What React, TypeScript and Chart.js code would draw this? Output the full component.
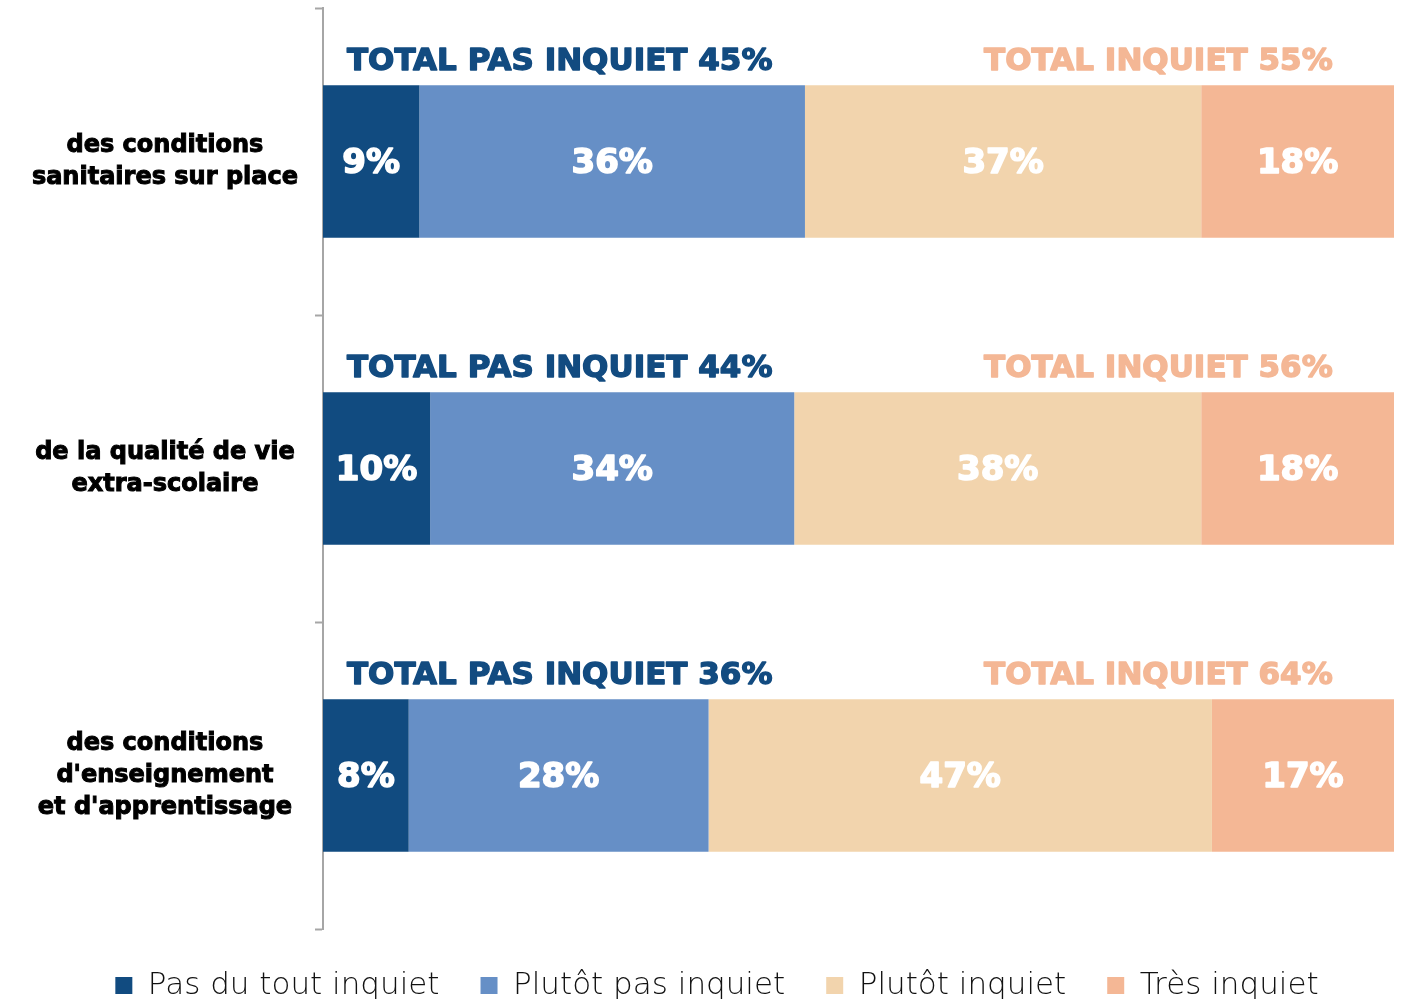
import React, { useEffect, useRef } from "react";
import { Chart, registerables } from "chart.js";

Chart.register(...registerables);

const categories: string[][] = [
  ["des conditions", "sanitaires sur place"],
  ["de la qualité de vie", "extra-scolaire"],
  ["des conditions", "d'enseignement", "et d'apprentissage"],
];
const seriesNames = ["Pas du tout inquiet", "Plutôt pas inquiet", "Plutôt inquiet", "Très inquiet"];
const pasDuToutInquiet = [9, 10, 8];
const plutotPasInquiet = [36, 34, 28];
const plutotInquiet = [37, 38, 47];
const tresInquiet = [18, 18, 17];
const totalPasInquiet = [45, 44, 36];
const totalInquiet = [55, 56, 64];

const COLORS = ["#114B80", "#668FC6", "#F2D4AD", "#F4B795"];
const BOLD = "'DejaVu Sans'";
const LIGHT = "'DejaVu Sans'";

const legendShift = {
  id: "legendShift",
  afterLayout(chart: any) {
    if (chart.legend) {
      chart.legend.left += 20;
      chart.legend.right += 20;
    }
  },
};

const labelsPlugin = {
  id: "labelsPlugin",
  afterDatasetsDraw(chart: any) {
    const ctx = chart.ctx;
    ctx.save();
    ctx.textAlign = "center";
    ctx.textBaseline = "middle";
    ctx.lineJoin = "round";
    ctx.fillStyle = "#ffffff";
    ctx.strokeStyle = "#ffffff";
    ctx.lineWidth = 1.6;
    ctx.font = `bold 34px ${BOLD}`;
    chart.data.datasets.forEach((ds: any, di: number) => {
      const meta = chart.getDatasetMeta(di);
      meta.data.forEach((bar: any, i: number) => {
        const cx = (bar.x + bar.base) / 2;
        const t = ds.data[i] + "%";
        ctx.strokeText(t, cx, bar.y + 3);
        ctx.fillText(t, cx, bar.y + 3);
      });
    });
    const xs = chart.scales.x;
    const meta0 = chart.getDatasetMeta(0);
    ctx.font = `bold 31px ${BOLD}`;
    ctx.lineWidth = 1.4;
    meta0.data.forEach((bar: any, i: number) => {
      const top = bar.y - bar.height / 2;
      const ty = top - 23;
      const a = "TOTAL PAS INQUIET " + totalPasInquiet[i] + "%";
      const b = "TOTAL INQUIET " + totalInquiet[i] + "%";
      ctx.fillStyle = "#124B80";
      ctx.strokeStyle = "#124B80";
      ctx.strokeText(a, xs.getPixelForValue(22.1), ty);
      ctx.fillText(a, xs.getPixelForValue(22.1), ty);
      ctx.fillStyle = "#F4B795";
      ctx.strokeStyle = "#F4B795";
      ctx.strokeText(b, xs.getPixelForValue(78), ty);
      ctx.fillText(b, xs.getPixelForValue(78), ty);
    });
    ctx.restore();
  },
};

export default function App() {
  const ref = useRef<HTMLCanvasElement>(null);
  useEffect(() => {
    if (!ref.current) return;
    const data = [pasDuToutInquiet, plutotPasInquiet, plutotInquiet, tresInquiet];
    const chart = new Chart(ref.current, {
      type: "bar",
      data: {
        labels: categories,
        datasets: data.map((d, i) => ({
          label: seriesNames[i],
          data: d,
          backgroundColor: COLORS[i],
          borderWidth: 0,
          barPercentage: 1,
          categoryPercentage: 0.497,
        })),
      },
      options: {
        indexAxis: "y",
        responsive: false,
        animation: false,
        layout: { padding: { top: 8, right: 8, left: 0, bottom: -12 } },
        scales: {
          x: { stacked: true, min: 0, max: 100, display: false },
          y: {
            stacked: true,
            afterFit(scale: any) {
              scale.width = 323;
              scale.paddingTop = 0;
              scale.paddingBottom = 0;
            },
            border: { display: true, color: "#A6A6A6", width: 2 },
            grid: {
              display: true,
              drawOnChartArea: false,
              drawTicks: true,
              tickLength: 8,
              tickWidth: 2,
              color: "#A6A6A6",
              offset: true,
            },
            ticks: {
              color: "#000000",
              padding: 17,
              crossAlign: "center",
              textStrokeColor: "#000000",
              textStrokeWidth: 1,
              font: { family: BOLD, size: 24, weight: "bold", lineHeight: 1.34 },
            },
          },
        },
        plugins: {
          tooltip: { enabled: false },
          legend: {
            position: "bottom",
            labels: {
              boxWidth: 17,
              boxHeight: 17,
              padding: 41,
              color: "#111111",
              font: { family: LIGHT, size: 31, weight: "200" },
            },
          },
        },
      },
      plugins: [legendShift, labelsPlugin],
    });
    return () => chart.destroy();
  }, []);
  return (
    <div style={{ position: "absolute", left: 0, top: 0, width: 1402, height: 999, background: "#fff" }}>
      <canvas ref={ref} width={1402} height={999} />
    </div>
  );
}
